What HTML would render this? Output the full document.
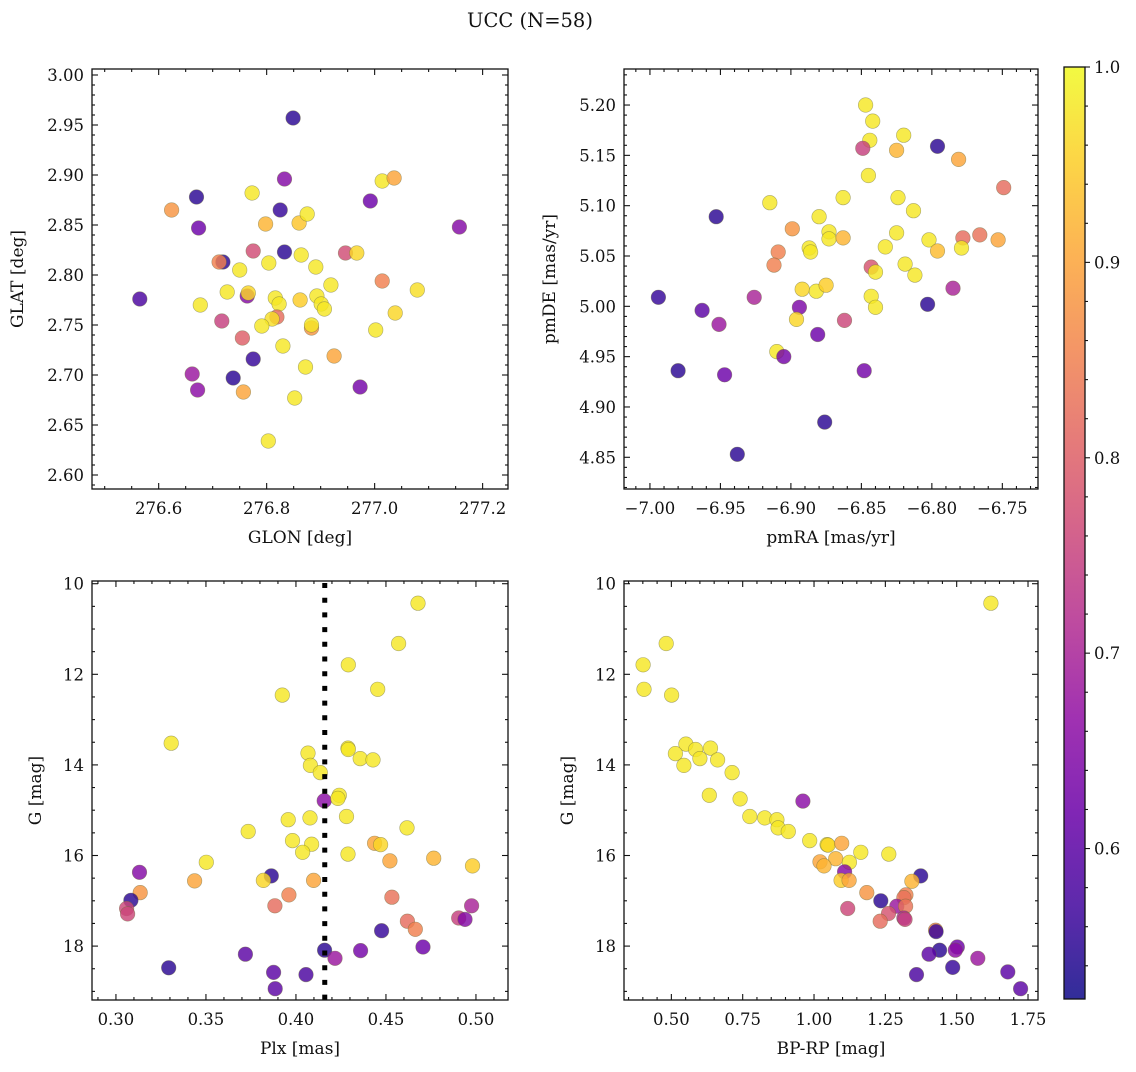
<!DOCTYPE html>
<html><head><meta charset="utf-8">
<style>
html,body{margin:0;padding:0;background:#fff;}
svg text{font-family:"DejaVu Serif","Liberation Serif",serif;fill:#111;}
</style></head>
<body>
<svg id="fig" width="1136" height="1067" viewBox="0 0 1136 1067" xmlns="http://www.w3.org/2000/svg">
<text x="530" y="27" font-size="19.5" text-anchor="middle">UCC (N=58)</text>
</svg>
<script>
// ---- data (probabilities on colorbar scale) ----
const glon = [276.849,276.833,276.773,276.670,276.624,276.674,276.825,276.798,276.860,276.875,277.014,277.036,276.992,277.157,276.775,276.833,276.864,276.946,276.967,276.719,276.712,276.750,276.804,276.891,276.919,277.014,277.079,276.565,276.727,276.764,276.766,276.816,276.823,276.862,276.893,276.901,276.907,276.677,276.717,276.819,276.810,276.791,276.883,276.883,277.038,277.002,276.755,276.830,276.775,276.925,276.872,276.662,276.738,276.672,276.757,276.973,276.852,276.803];
const glat = [2.957,2.896,2.882,2.878,2.865,2.847,2.865,2.851,2.852,2.861,2.894,2.897,2.874,2.848,2.824,2.823,2.820,2.822,2.822,2.813,2.813,2.805,2.812,2.808,2.790,2.794,2.785,2.776,2.783,2.779,2.782,2.777,2.771,2.775,2.779,2.771,2.766,2.770,2.754,2.758,2.756,2.749,2.747,2.750,2.762,2.745,2.737,2.729,2.716,2.719,2.708,2.701,2.697,2.685,2.683,2.688,2.677,2.634];
const probA = [.55,.65,.98,.55,.88,.62,.56,.92,.94,.98,.98,.9,.62,.65,.77,.55,.98,.77,.96,.55,.85,.98,.98,.98,.98,.85,.97,.58,.98,.65,.96,.98,.98,.95,.98,.98,.98,.98,.75,.82,.97,.98,.88,.98,.96,.98,.8,.98,.56,.9,.98,.68,.55,.66,.9,.63,.98,.98];

const pmra = [-6.847,-6.842,-6.844,-6.849,-6.820,-6.796,-6.825,-6.781,-6.845,-6.749,-6.915,-6.863,-6.824,-6.813,-6.953,-6.880,-6.899,-6.873,-6.873,-6.863,-6.825,-6.833,-6.802,-6.796,-6.778,-6.779,-6.766,-6.753,-6.909,-6.887,-6.886,-6.912,-6.843,-6.840,-6.819,-6.812,-6.892,-6.882,-6.875,-6.843,-6.840,-6.785,-6.803,-6.994,-6.926,-6.894,-6.963,-6.896,-6.862,-6.951,-6.881,-6.910,-6.905,-6.980,-6.947,-6.848,-6.876,-6.938];
const pmde = [5.200,5.184,5.165,5.157,5.170,5.159,5.155,5.146,5.130,5.118,5.103,5.108,5.108,5.095,5.089,5.089,5.077,5.074,5.067,5.068,5.073,5.059,5.066,5.055,5.068,5.058,5.071,5.066,5.054,5.058,5.054,5.041,5.039,5.034,5.042,5.031,5.017,5.015,5.021,5.010,4.999,5.018,5.002,5.009,5.009,4.999,4.996,4.987,4.986,4.982,4.972,4.955,4.950,4.936,4.932,4.936,4.885,4.853];
const probB = [.98,.98,.98,.75,.98,.55,.92,.9,.98,.82,.98,.98,.98,.98,.55,.98,.88,.98,.98,.92,.98,.98,.98,.93,.82,.98,.83,.9,.85,.98,.98,.85,.78,.98,.98,.98,.96,.98,.95,.98,.98,.7,.55,.56,.7,.64,.6,.96,.76,.68,.62,.98,.63,.55,.62,.63,.55,.55];

const plx = [0.4678,0.4570,0.4291,0.4454,0.3924,0.3307,0.4067,0.4080,0.4135,0.4289,0.4291,0.4357,0.4428,0.4157,0.4241,0.4233,0.3957,0.4078,0.4281,0.4617,0.3735,0.3981,0.4087,0.4037,0.4289,0.4437,0.4470,0.4522,0.4765,0.4981,0.3502,0.3131,0.3863,0.3819,0.3437,0.4098,0.3135,0.3083,0.3961,0.3883,0.4533,0.4976,0.3059,0.3065,0.4619,0.4663,0.4904,0.4939,0.4476,0.4706,0.4159,0.4359,0.4217,0.3719,0.3293,0.3876,0.4056,0.3885];
const gmagC = [10.43,11.32,11.79,12.33,12.46,13.52,13.74,14.01,14.17,13.63,13.66,13.86,13.89,14.79,14.67,14.74,15.21,15.17,15.14,15.39,15.47,15.67,15.75,15.93,15.97,15.73,15.76,16.12,16.06,16.23,16.15,16.37,16.45,16.55,16.56,16.55,16.82,16.99,16.87,17.11,16.92,17.11,17.17,17.29,17.45,17.63,17.38,17.41,17.66,18.02,18.09,18.10,18.27,18.18,18.48,18.58,18.63,18.94];
const probC = [.98,.98,.98,.98,.98,.98,.98,.98,.98,.98,.98,.98,.98,.66,.98,.98,.98,.98,.98,.98,.98,.98,.98,.98,.98,.9,.96,.9,.92,.95,.98,.65,.55,.96,.9,.9,.88,.55,.85,.82,.83,.7,.76,.76,.82,.85,.75,.65,.56,.62,.55,.63,.68,.6,.55,.6,.58,.6];
const plxMean = [0.416];

const bprp = [1.620,0.482,0.401,0.404,0.501,0.551,0.585,0.637,0.514,0.600,0.662,0.544,0.713,0.961,0.633,0.741,0.775,0.827,0.870,0.874,0.910,0.985,1.046,1.049,1.097,1.164,1.262,1.076,1.021,1.035,1.124,1.107,1.374,1.095,1.123,1.343,1.185,1.322,1.315,1.234,1.290,1.321,1.118,1.261,1.232,1.315,1.319,1.426,1.428,1.440,1.502,1.495,1.403,1.574,1.486,1.359,1.679,1.724];
const gmagD = [10.43,11.32,11.79,12.33,12.46,13.54,13.66,13.63,13.75,13.86,13.89,14.01,14.17,14.80,14.67,14.75,15.14,15.17,15.21,15.39,15.47,15.67,15.76,15.77,15.73,15.93,15.97,16.07,16.14,16.23,16.15,16.36,16.45,16.55,16.55,16.57,16.82,16.87,16.93,17.00,17.12,17.12,17.17,17.28,17.45,17.38,17.41,17.65,17.68,18.09,18.02,18.09,18.18,18.27,18.47,18.63,18.57,18.94];
const probD = [.98,.98,.98,.98,.98,.98,.98,.98,.98,.98,.98,.98,.98,.66,.98,.98,.98,.98,.98,.98,.98,.98,.98,.96,.9,.98,.98,.92,.9,.92,.98,.65,.55,.95,.9,.92,.88,.85,.83,.55,.68,.83,.76,.78,.82,.7,.75,.85,.56,.55,.62,.66,.6,.68,.56,.58,.6,.6];

const cbTicks = [0.6,0.7,0.8,0.9,1.0];
const cbLabels = ["0.6","0.7","0.8","0.9","1.0"];

// ---- helpers ----
const NS="http://www.w3.org/2000/svg";
const svg=document.getElementById('fig');
function mk(tag,attrs,parent){const e=document.createElementNS(NS,tag);for(const k in attrs)e.setAttribute(k,attrs[k]);(parent||svg).appendChild(e);return e;}
const plasma=[[0,13,8,135],[.1,65,4,157],[.2,106,0,168],[.3,143,13,164],[.4,177,42,144],[.5,204,71,120],[.6,225,100,98],[.7,242,132,75],[.8,252,166,54],[.9,252,206,37],[1,240,249,33]];
function cmap(t){t=Math.max(0,Math.min(1,t));for(let i=1;i<plasma.length;i++){if(t<=plasma[i][0]){const a=plasma[i-1],b=plasma[i];const f=(t-a[0])/(b[0]-a[0]);return 'rgb('+[1,2,3].map(j=>Math.round(a[j]+(b[j]-a[j])*f)).join(',')+')';}}return 'rgb(240,249,33)';}
const VMIN=0.523, VMAX=1.0;
const TFS=16.5, LFS=17;

function panel(o){
  const g=mk('g',{});
  
  
  const sx=v=>o.x0+(v-o.xmin)/(o.xmax-o.xmin)*(o.x1-o.x0);
  const sy=o.invert? (v=>o.y0+(v-o.ymin)/(o.ymax-o.ymin)*(o.y1-o.y0)) : (v=>o.y1-(v-o.ymin)/(o.ymax-o.ymin)*(o.y1-o.y0));
  const pg=mk('g',{},g);
  
  
  for(let i=0;i<o.xs.length;i++){
    const c=mk('circle',{cx:sx(o.xs[i]).toFixed(1),cy:sy(o.ys[i]).toFixed(1),r:7.3,fill:cmap((o.ps[i]-VMIN)/(VMAX-VMIN)),'fill-opacity':0.82,stroke:'#6b6b3a','stroke-opacity':0.55,'stroke-width':0.6},pg);
    
    
  }
  if(o.extra)o.extra(g,sx,sy);
  const fr=mk('rect',{x:o.x0,y:o.y0,width:o.x1-o.x0,height:o.y1-o.y0,fill:'none',stroke:'#111','stroke-width':1.3},g);
  
  
  const tg=mk('g',{stroke:'#111','stroke-width':1.1},g);
  for(let v=o.xmin-(o.xmin%o.xminor);v<=o.xmax+1e-9;v+=o.xminor){
    if(v<o.xmin-1e-9)continue;const X=sx(v);
    const maj=Math.abs(v/o.xmajor-Math.round(v/o.xmajor))<1e-4;const L=maj?6:3;
    mk('line',{x1:X,x2:X,y1:o.y1,y2:o.y1-L},tg);mk('line',{x1:X,x2:X,y1:o.y0,y2:o.y0+L},tg);
  }
  for(let v=o.ymin-(o.ymin%o.yminor);v<=o.ymax+1e-9;v+=o.yminor){
    if(v<o.ymin-1e-9)continue;const Y=sy(v);
    const maj=Math.abs(v/o.ymajor-Math.round(v/o.ymajor))<1e-4;const L=maj?6:3;
    mk('line',{y1:Y,y2:Y,x1:o.x0,x2:o.x0+L},tg);mk('line',{y1:Y,y2:Y,x1:o.x1,x2:o.x1-L},tg);
  }
  o.xticks.forEach((v,i)=>{const t=mk('text',{x:sx(v),y:o.y1+25,'font-size':TFS,'text-anchor':'middle'},g);t.textContent=o.xlabels[i];
    });
  o.yticks.forEach((v,i)=>{const t=mk('text',{x:o.x0-8,y:sy(v)+6,'font-size':TFS,'text-anchor':'end'},g);t.textContent=o.ylabels[i];
    });
  const xt=mk('text',{x:(o.x0+o.x1)/2,y:o.y1+54,'font-size':LFS,'text-anchor':'middle'},g);xt.textContent=o.xtitle;
  
  const yx=o.ytx, yy=(o.y0+o.y1)/2;
  const yt=mk('text',{x:yx,y:yy,'font-size':LFS,'text-anchor':'middle',transform:`rotate(-90 ${yx} ${yy})`},g);yt.textContent=o.ytitle;
  
}

panel({name:'glon-glat-panel',x0:92,x1:508,y0:69,y1:489,xmin:276.4765,xmax:277.247,ymin:2.586,ymax:3.006,
  xs:glon,ys:glat,ps:probA,xmajor:0.2,xminor:0.05,ymajor:0.05,yminor:0.01,
  xticks:[276.6,276.8,277.0,277.2],xlabels:['276.6','276.8','277.0','277.2'],
  yticks:[2.60,2.65,2.70,2.75,2.80,2.85,2.90,2.95,3.00],ylabels:['2.60','2.65','2.70','2.75','2.80','2.85','2.90','2.95','3.00'],
  xtitle:'GLON [deg]',ytitle:'GLAT [deg]',ytx:23});
panel({name:'proper-motion-panel',x0:624,x1:1038,y0:69,y1:489,xmin:-7.0184,xmax:-6.7247,ymin:4.8185,ymax:5.2358,
  xs:pmra,ys:pmde,ps:probB,xmajor:0.05,xminor:0.01,ymajor:0.05,yminor:0.01,
  xticks:[-7.0,-6.95,-6.9,-6.85,-6.8,-6.75],xlabels:['\u22127.00','\u22126.95','\u22126.90','\u22126.85','\u22126.80','\u22126.75'],
  yticks:[4.85,4.90,4.95,5.00,5.05,5.10,5.15,5.20],ylabels:['4.85','4.90','4.95','5.00','5.05','5.10','5.15','5.20'],
  xtitle:'pmRA [mas/yr]',ytitle:'pmDE [mas/yr]',ytx:555});
panel({name:'plx-g-panel',x0:92,x1:508,y0:581,y1:1000,xmin:0.2867,xmax:0.5178,ymin:9.94,ymax:19.19,invert:true,
  xs:plx,ys:gmagC,ps:probC,xmajor:0.05,xminor:0.01,ymajor:2,yminor:0.5,
  xticks:[0.30,0.35,0.40,0.45,0.50],xlabels:['0.30','0.35','0.40','0.45','0.50'],
  yticks:[10,12,14,16,18],ylabels:['10','12','14','16','18'],
  xtitle:'Plx [mas]',ytitle:'G [mag]',ytx:41,
  extra:(g,sx,sy)=>{const X=sx(plxMean[0]);const l=mk('line',{x1:X,x2:X,y1:583,y2:1000,stroke:'#000','stroke-width':5,'stroke-dasharray':'5 9.7'},g);
    }});
panel({name:'cmd-panel',x0:624,x1:1038,y0:581,y1:1000,xmin:0.334,xmax:1.785,ymin:9.94,ymax:19.19,invert:true,
  xs:bprp,ys:gmagD,ps:probD,xmajor:0.25,xminor:0.05,ymajor:2,yminor:0.5,
  xticks:[0.5,0.75,1.0,1.25,1.5,1.75],xlabels:['0.50','0.75','1.00','1.25','1.50','1.75'],
  yticks:[10,12,14,16,18],ylabels:['10','12','14','16','18'],
  xtitle:'BP-RP [mag]',ytitle:'G [mag]',ytx:573});

(function(){
  const cx0=1064,cx1=1085,cy0=67,cy1=999;
  const g=mk('g',{});
  
  
  const defs=mk('defs',{},g);
  const lg=mk('linearGradient',{id:'pl',x1:0,y1:1,x2:0,y2:0},defs);
  plasma.forEach(s=>mk('stop',{offset:s[0],'stop-color':`rgb(${s[1]},${s[2]},${s[3]})`,'stop-opacity':0.85},lg));
  mk('rect',{x:cx0,y:cy0,width:cx1-cx0,height:cy1-cy0,fill:'url(#pl)'},g);
  mk('rect',{x:cx0,y:cy0,width:cx1-cx0,height:cy1-cy0,fill:'none',stroke:'#111','stroke-width':1.3},g);
  const sy=v=>cy1-(v-VMIN)/(VMAX-VMIN)*(cy1-cy0);
  for(let v=0.54;v<=1.0001;v+=0.02){const Y=sy(v);const maj=Math.abs(v*10-Math.round(v*10))<1e-4;
    mk('line',{x1:cx1,x2:cx1+(maj?5:3),y1:Y,y2:Y,stroke:'#111','stroke-width':1.1},g);}
  cbTicks.forEach((v,i)=>{const t=mk('text',{x:cx1+9,y:sy(v)+6,'font-size':TFS},g);t.textContent=cbLabels[i];
    });
})();
</script>
</body></html>
